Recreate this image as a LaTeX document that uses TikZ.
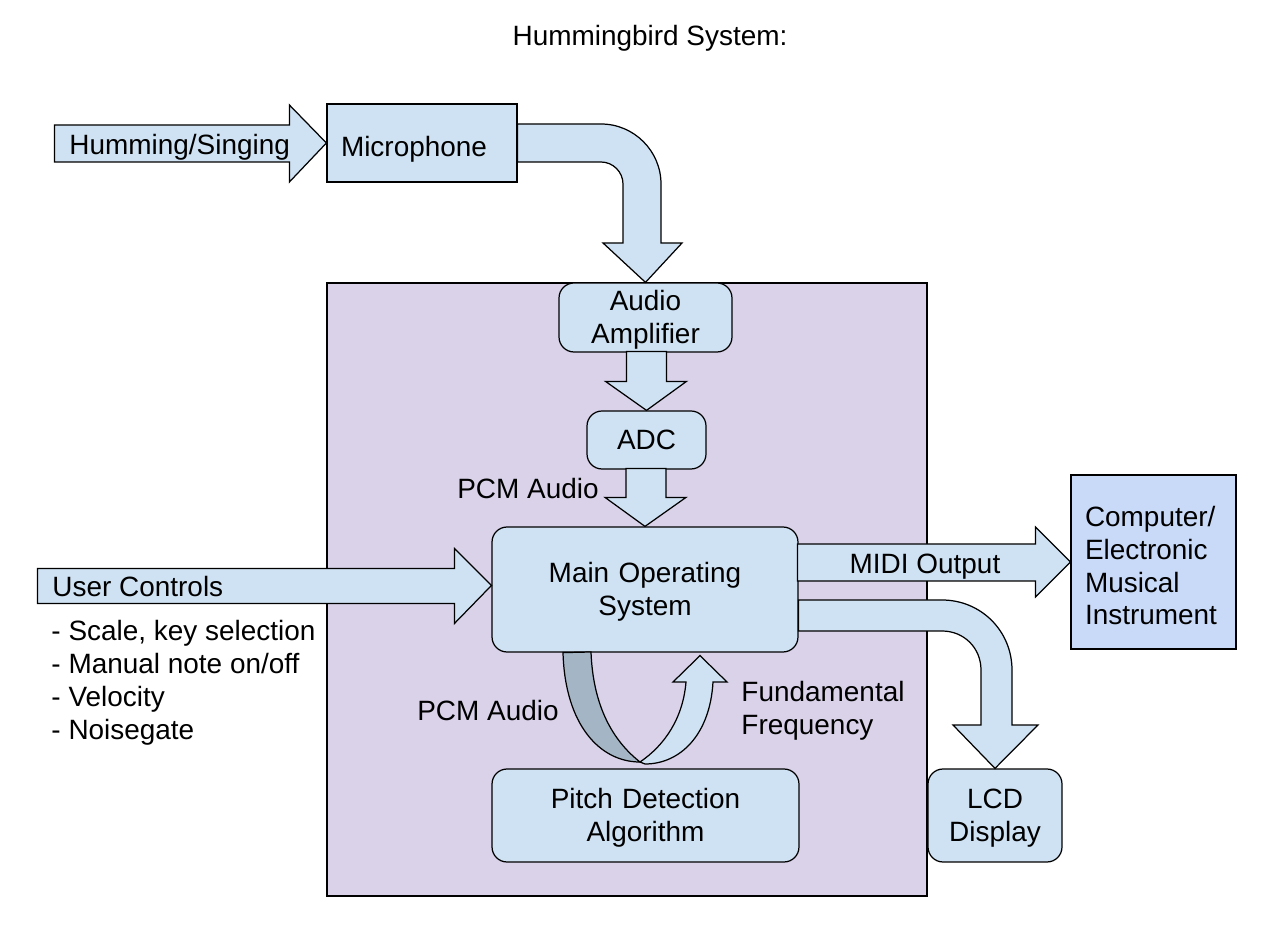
\documentclass[tikz,border=0pt]{standalone}
\usepackage{fontspec}
\setmainfont{Liberation Sans}
\usetikzlibrary{positioning, calc}
\newcommand{\linestrut}{\rule[-0.212em]{0pt}{1.117em}}
\newcommand{\boxstrut}{\rule[-0.212em]{0pt}{1.4em}}

\begin{document}
\begin{tikzpicture}[x=0.02cm, y=-0.02cm, font=\fontsize{15.9}{18.7}\selectfont, line width=0.7pt,
    every node/.append style={execute at begin node=\linestrut, execute at end node=\linestrut},
    boxbase/.style={draw, fill=lightblue, inner sep=0pt},
    box/.style={boxbase, execute at begin node=\boxstrut},
    roundbox/.style={boxbase, rounded corners=0.3cm, align=center},
    blockarrow/.style={draw, fill=lightblue, line join=miter}]
        % Define colors
        \definecolor{lightblue}{RGB}{207, 226, 243}
        \definecolor{lightpurple}{RGB}{217, 210, 233}
        \definecolor{deviceblue}{RGB}{201, 218, 248}
        \definecolor{darkblue}{RGB}{164, 181, 197}

        \useasboundingbox (0,0) rectangle (1275,925);

        % Nodes
        \node (title) at (650,36) {Hummingbird System:};
        \node[draw, fill=lightpurple, minimum width=12cm, minimum height=12.26cm] (sys) at (627,589.5) {};

        \node[box, minimum width=3.8cm, minimum height=1.56cm, text width=3.24cm, align=left] (mic) at (422,143) {Microphone};
        \node[roundbox, minimum width=3.46cm, minimum height=1.38cm, text width=3.2cm] (amp) at (645.5,317.5) {Audio\\Amplifier};
        \node[roundbox, minimum width=2.38cm, minimum height=1.16cm, text width=2.2cm] (adc) at (646.5,440) {ADC};
        \node[roundbox, minimum width=6.12cm, minimum height=2.5cm, text width=5.8cm] (main) at (645,589.5) {Main Operating\\System};
        \node[roundbox, minimum width=6.14cm, minimum height=1.86cm, text width=5.8cm] (pitch) at (645.5,815.5) {Pitch Detection\\Algorithm};
        \node[roundbox, minimum width=2.68cm, minimum height=1.86cm, text width=2.4cm] (lcd) at (995,815.5) {LCD\\Display};
        \node[box, fill=deviceblue, minimum width=3.3cm, minimum height=3.48cm, text width=2.74cm, align=left] (comp) at (1153.5,562) {Computer/\\Electronic\\Musical\\Instrument};

        % Edges
        \draw[blockarrow] (mic.west) -- ++(-37,-38) -- ++(0,20) -- ++(-235,0) -- ++(0,37) -- ++(235,0) -- ++(0,20) -- cycle;
        \draw[blockarrow] ($(main.west)+(0,-4)$) -- ++(-37,-37) -- ++(0,20) -- ++(-417,0) -- ++(0,35) -- ++(417,0) -- ++(0,20) -- cycle;
        \draw[blockarrow] (comp.west) -- ++(-35,-35) -- ++(0,17) -- ++(-238,0) -- ++(0,37) -- ++(238,0) -- ++(0,16) -- cycle;
        \draw[blockarrow] (adc.north) -- ++(-41,-29) -- ++(21,0) -- ++(0,-30) -- ++(40,0) -- ++(0,30) -- ++(20,0) -- cycle;
        \draw[blockarrow] (main.north) -- ++(-40,-29) -- ++(21,0) -- ++(0,-29) -- ++(40,0) -- ++(0,29) -- ++(20,0) -- cycle;

        \draw[blockarrow] (amp.north) -- (603,243) -- (623,243) -- (623,184) .. controls (623,172) and (613,162) .. (601,162)
            -- (mic.east |- 0,162) -- (mic.east |- 0,124) -- (601,124) .. controls (634,124) and (661,151) .. (661,184) -- (661,243) -- (682,243) -- cycle;
        \draw[blockarrow] (lcd.north) -- (953,725) -- (981,725) -- (981,670) .. controls (981,648) and (964,631) .. (942,631)
            -- (main.east |- 0,631) -- (main.east |- 0,600) -- (942,600) .. controls (981,600) and (1012,631) .. (1012,670) -- (1012,725) -- (1038,725) -- cycle;

        \draw[fill=darkblue] ($(main.south)+(-82,0)$) .. controls (565,725) and (600,762) .. (640,762) .. controls (612,740) and (593,705) .. (591,652) -- cycle;
        \draw[blockarrow] (640,762) .. controls (665,745) and (683,718) .. (686,682) -- (673,682) -- ($(main.south)+(55,3)$) -- (727,682) -- (713,682) .. controls (710,735) and (680,764) .. (645,764) -- cycle;

        % Labels
        \node[anchor=west] (hum) at (63,145) {Humming/Singing};
        \node[anchor=west] (user) at (46,587) {User Controls};
        \node[anchor=north west, align=left] (opts) at (45,614) {- Scale, key selection\\- Manual note on/off\\- Velocity\\- Noisegate};
        \node (pcm1) at (528,489) {PCM Audio};
        \node (midi) at (925,564) {MIDI Output};
        \node (pcm2) at (488,711) {PCM Audio};
        \node[anchor=west, align=left] (freq) at (735,711) {Fundamental\\Frequency};
    \end{tikzpicture}
\end{document}
